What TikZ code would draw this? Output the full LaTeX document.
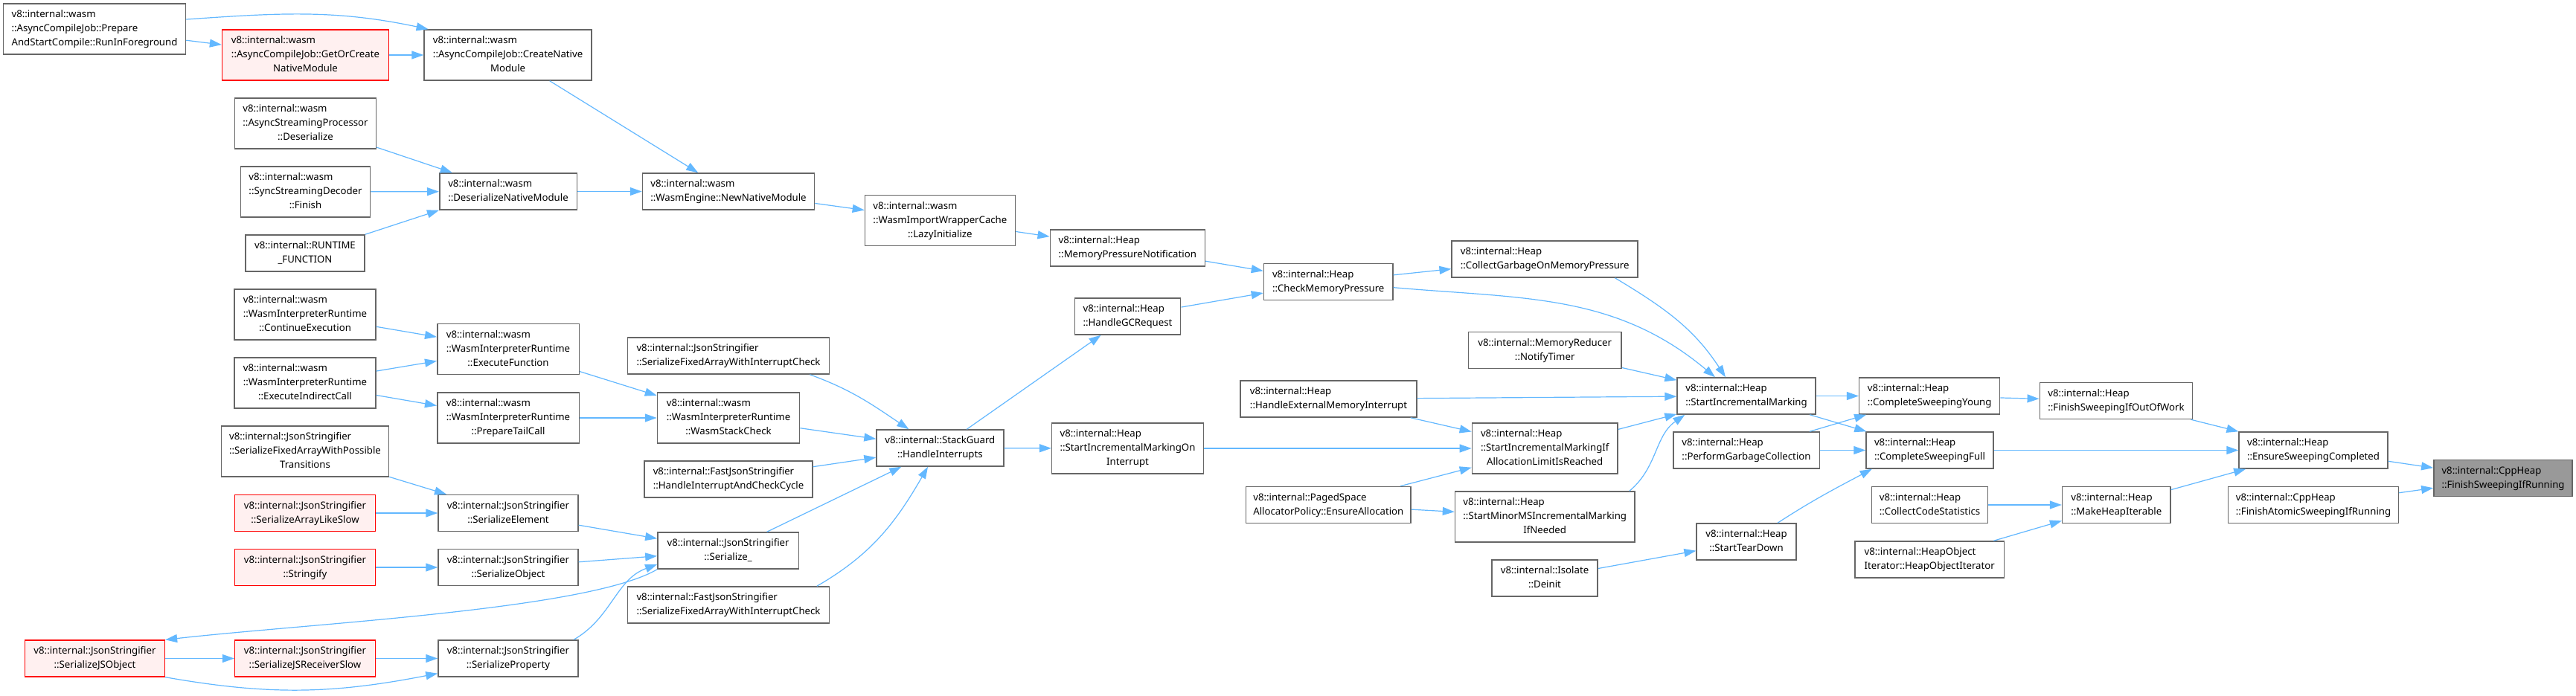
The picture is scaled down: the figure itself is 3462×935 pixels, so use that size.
\documentclass[tikz,border=0pt]{standalone}
\usepackage{fontspec}
\setmainfont{Noto Sans}
\usepackage{tikz}
\usetikzlibrary{arrows.meta}
\definecolor{boxgray}{HTML}{666666}
\definecolor{hotfill}{HTML}{FFF0F0}
\definecolor{rootgray}{HTML}{999999}
\definecolor{callblue}{HTML}{63B8FF}
\newcommand{\fnlbl}[2]{\begin{tabular}{@{}l@{}}#1\\\multicolumn{1}{@{}c@{}}{#2}\end{tabular}}

\begin{document}
\begin{tikzpicture}[x=1pt,y=-1pt,
  fn/.style={draw=boxgray,fill=white,line width=1.5pt,inner xsep=6pt,inner ysep=5.5pt,font=\fontsize{13.2}{19}\selectfont},
  fnhot/.style={fn,draw=red,fill=hotfill,line width=1.3pt},
  fnroot/.style={fn,fill=rootgray},
  call/.style={draw=callblue,line width=1.2pt,-{Triangle[length=16pt,width=11pt]}}]
\fill[white] (0,0) rectangle (3462,935);
\useasboundingbox (0,0) rectangle (3462,935);
\node[fn,minimum width=245] (runfg) at (127,39) {\fnlbl{v8::internal::wasm\\::AsyncCompileJob::Prepare}{AndStartCompile::RunInForeground}};
\node[fnhot,minimum width=224] (getcreate) at (410.5,74) {\fnlbl{v8::internal::wasm\\::AsyncCompileJob::GetOrCreate}{NativeModule}};
\node[fn,minimum width=225] (createnm) at (682.6,74) {\fnlbl{v8::internal::wasm\\::AsyncCompileJob::CreateNative}{Module}};
\node[fn,minimum width=190] (asyncdeser) at (410.5,166) {\fnlbl{v8::internal::wasm\\::AsyncStreamingProcessor}{::Deserialize}};
\node[fn,minimum width=174] (syncfinish) at (410.5,258) {\fnlbl{v8::internal::wasm\\::SyncStreamingDecoder}{::Finish}};
\node[fn,minimum width=160] (runtimefn) at (410,340.5) {\fnlbl{v8::internal::RUNTIME}{\_FUNCTION}};
\node[fn,minimum width=190] (contexec) at (410,423) {\fnlbl{v8::internal::wasm\\::WasmInterpreterRuntime}{::ContinueExecution}};
\node[fn,minimum width=190] (execind) at (410,515) {\fnlbl{v8::internal::wasm\\::WasmInterpreterRuntime}{::ExecuteIndirectCall}};
\node[fn,minimum width=225] (serposs) at (410,607) {\fnlbl{v8::internal::JsonStringifier\\::SerializeFixedArrayWithPossible}{Transitions}};
\node[fnhot,minimum width=189] (arrslow) at (410,690) {\fnlbl{v8::internal::JsonStringifier}{::SerializeArrayLikeSlow}};
\node[fnhot,minimum width=189] (stringify) at (410,763) {\fnlbl{v8::internal::JsonStringifier}{::Stringify}};
\node[fnhot,minimum width=188] (jsobject) at (127.5,885.5) {\fnlbl{v8::internal::JsonStringifier}{::SerializeJSObject}};
\node[fnhot,minimum width=189] (receiverslow) at (410,885.5) {\fnlbl{v8::internal::JsonStringifier}{::SerializeJSReceiverSlow}};
\node[fn,minimum width=184.5] (deserialize) at (683,257.5) {\fnlbl{v8::internal::wasm}{::DeserializeNativeModule}};
\node[fn,minimum width=231] (newnm) at (979,257.5) {\fnlbl{v8::internal::wasm}{::WasmEngine::NewNativeModule}};
\node[fn,minimum width=190.5] (execfn) at (683,469.5) {\fnlbl{v8::internal::wasm\\::WasmInterpreterRuntime}{::ExecuteFunction}};
\node[fn,minimum width=271] (fixedjson) at (979,478.5) {\fnlbl{v8::internal::JsonStringifier}{::SerializeFixedArrayWithInterruptCheck}};
\node[fn,minimum width=190.5] (tailcall) at (683,562) {\fnlbl{v8::internal::wasm\\::WasmInterpreterRuntime}{::PrepareTailCall}};
\node[fn,minimum width=191] (stackcheck) at (979,562) {\fnlbl{v8::internal::wasm\\::WasmInterpreterRuntime}{::WasmStackCheck}};
\node[fn,minimum width=226] (cyclecheck) at (979,644.5) {\fnlbl{v8::internal::FastJsonStringifier}{::HandleInterruptAndCheckCycle}};
\node[fn,minimum width=188] (element) at (683,690) {\fnlbl{v8::internal::JsonStringifier}{::SerializeElement}};
\node[fn,minimum width=188] (object) at (683,763) {\fnlbl{v8::internal::JsonStringifier}{::SerializeObject}};
\node[fn,minimum width=189.4] (serialize) at (978.6,740.5) {\fnlbl{v8::internal::JsonStringifier}{::Serialize\_}};
\node[fn,minimum width=271] (fixedfast) at (979,813.5) {\fnlbl{v8::internal::FastJsonStringifier}{::SerializeFixedArrayWithInterruptCheck}};
\node[fn,minimum width=188] (property) at (683,885.5) {\fnlbl{v8::internal::JsonStringifier}{::SerializeProperty}};
\node[fn,minimum width=202] (lazyinit) at (1263.4,296.5) {\fnlbl{v8::internal::wasm\\::WasmImportWrapperCache}{::LazyInitialize}};
\node[fn,minimum width=208] (mpnotify) at (1515.3,333.5) {\fnlbl{v8::internal::Heap}{::MemoryPressureNotification}};
\node[fn,minimum width=173.5] (checkmp) at (1785.2,379) {\fnlbl{v8::internal::Heap}{::CheckMemoryPressure}};
\node[fn,minimum width=142.4] (gcrequest) at (1515.5,425.5) {\fnlbl{v8::internal::Heap}{::HandleGCRequest}};
\node[fn,minimum width=170.7] (interrupts) at (1263.4,602.5) {\fnlbl{v8::internal::StackGuard}{::HandleInterrupts}};
\node[fn,minimum width=203.6] (onint) at (1515.5,603) {\fnlbl{v8::internal::Heap\\::StartIncrementalMarkingOn}{Interrupt}};
\node[fn,minimum width=236.7] (extmem) at (1785.5,536.5) {\fnlbl{v8::internal::Heap}{::HandleExternalMemoryInterrupt}};
\node[fn,minimum width=221.7] (ensurealloc) at (1785.3,679) {\fnlbl{v8::internal::PagedSpace}{AllocatorPolicy::EnsureAllocation}};
\node[fn,minimum width=250] (collectmp) at (2076.2,348.5) {\fnlbl{v8::internal::Heap}{::CollectGarbageOnMemoryPressure}};
\node[fn,minimum width=205.6] (notifytimer) at (2076.2,471) {\fnlbl{v8::internal::MemoryReducer}{::NotifyTimer}};
\node[fn,minimum width=195.6] (iflimit) at (2076.2,603) {\fnlbl{v8::internal::Heap\\::StartIncrementalMarkingIf}{AllocationLimitIsReached}};
\node[fn,minimum width=241.4] (minorms) at (2076.2,695) {\fnlbl{v8::internal::Heap\\::StartMinorMSIncrementalMarking}{IfNeeded}};
\node[fn,minimum width=142.4] (deinit) at (2076,777.5) {\fnlbl{v8::internal::Isolate}{::Deinit}};
\node[fn,minimum width=185.8] (startim) at (2347,532.5) {\fnlbl{v8::internal::Heap}{::StartIncrementalMarking}};
\node[fn,minimum width=196.5] (performgc) at (2347,605.5) {\fnlbl{v8::internal::Heap}{::PerformGarbageCollection}};
\node[fn,minimum width=133.8] (teardown) at (2347,728.5) {\fnlbl{v8::internal::Heap}{::StartTearDown}};
\node[fn,minimum width=189] (sweepyoung) at (2593.2,532.5) {\fnlbl{v8::internal::Heap}{::CompleteSweepingYoung}};
\node[fn,minimum width=171] (sweepfull) at (2593.5,605.5) {\fnlbl{v8::internal::Heap}{::CompleteSweepingFull}};
\node[fn,minimum width=155.7] (codestats) at (2593.5,679) {\fnlbl{v8::internal::Heap}{::CollectCodeStatistics}};
\node[fn,minimum width=200.5] (heapobjit) at (2593.2,752.5) {\fnlbl{v8::internal::HeapObject}{Iterator::HeapObjectIterator}};
\node[fn,minimum width=205.4] (outofwork) at (2844,539) {\fnlbl{v8::internal::Heap}{::FinishSweepingIfOutOfWork}};
\node[fn,minimum width=145.4] (iterable) at (2844.3,679) {\fnlbl{v8::internal::Heap}{::MakeHeapIterable}};
\node[fn,minimum width=199.7] (ensuresweep) at (3109,605.5) {\fnlbl{v8::internal::Heap}{::EnsureSweepingCompleted}};
\node[fn,minimum width=228.7] (atomicsweep) at (3109,679) {\fnlbl{v8::internal::CppHeap}{::FinishAtomicSweepingIfRunning}};
\node[fnroot,minimum width=186.3] (finishsweep) at (3364,643) {\fnlbl{v8::internal::CppHeap}{::FinishSweepingIfRunning}};
\draw[call] (runfg) -- (getcreate);
\draw[call] (runfg.6) to[out=4,in=168] (createnm.162);
\draw[call] (getcreate) -- (createnm);
\draw[call] (createnm) -- (newnm);
\draw[call] (asyncdeser) -- (deserialize);
\draw[call] (syncfinish) -- (deserialize);
\draw[call] (runtimefn.north east) -- (deserialize.south west);
\draw[call] (deserialize) -- (newnm);
\draw[call] (newnm) -- (lazyinit);
\draw[call] (lazyinit) -- (mpnotify);
\draw[call] (mpnotify) -- (checkmp);
\draw[call] (gcrequest) -- (checkmp);
\draw[call] (checkmp) -- (collectmp);
\draw[call] (checkmp.-5) to[out=-5,in=140] (startim.149);
\draw[call] (collectmp.-15) to[out=-31,in=123] (startim.138);
\draw[call] (notifytimer) -- (startim);
\draw[call] (extmem) -- (startim);
\draw[call] (iflimit) -- (startim);
\draw[call] (minorms.17.5) to[out=40,in=215] (startim.197);
\draw[call] (extmem) -- (iflimit);
\draw[call] (onint) -- (iflimit);
\draw[call] (ensurealloc) -- (iflimit);
\draw[call] (ensurealloc) -- (minorms);
\draw[call] (interrupts) -- (gcrequest);
\draw[call] (interrupts) -- (onint);
\draw[call] (contexec) -- (execfn);
\draw[call] (execind) -- (execfn);
\draw[call] (execind) -- (tailcall);
\draw[call] (execfn) -- (stackcheck);
\draw[call] (tailcall) -- (stackcheck);
\draw[call] (fixedjson.-13.5) to[out=-20,in=146] (interrupts.149);
\draw[call] (stackcheck) -- (interrupts);
\draw[call] (cyclecheck) -- (interrupts);
\draw[call] (serialize) -- (interrupts);
\draw[call] (fixedfast.12.3) to[out=30,in=240] (interrupts.237);
\draw[call] (serposs) -- (element);
\draw[call] (arrslow) -- (element);
\draw[call] (stringify) -- (object);
\draw[call] (element) -- (serialize);
\draw[call] (object) -- (serialize);
\draw[call] (property.16.5) to[out=30,in=200] (serialize.191.6);
\draw[call] (serialize.south west) .. controls (790,820) and (420,838) .. (jsobject.north east);
\draw[call] (jsobject) -- (receiverslow);
\draw[call] (jsobject.south east) to[out=-10,in=191] (property.192);
\draw[call] (receiverslow) -- (property);
\draw[call] (startim) -- (sweepyoung);
\draw[call] (startim) -- (sweepfull);
\draw[call] (performgc) -- (sweepyoung);
\draw[call] (performgc) -- (sweepfull);
\draw[call] (teardown.31.5) to[out=33,in=208] (sweepfull.198);
\draw[call] (deinit) -- (teardown);
\draw[call] (sweepyoung) -- (outofwork);
\draw[call] (sweepfull) -- (ensuresweep);
\draw[call] (outofwork) -- (ensuresweep);
\draw[call] (iterable) -- (ensuresweep);
\draw[call] (codestats) -- (iterable);
\draw[call] (heapobjit) -- (iterable);
\draw[call] (ensuresweep) -- (finishsweep);
\draw[call] (atomicsweep) -- (finishsweep);
\end{tikzpicture}
\end{document}
